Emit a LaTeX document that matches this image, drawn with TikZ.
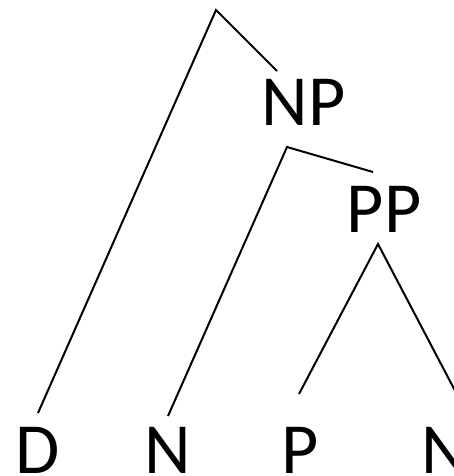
\documentclass[tikz,border=0pt]{standalone}
\usepackage{fontspec}
\setmainfont{Carlito}
\tikzstyle{cat} = [font=\fontsize{72}{72}\selectfont, inner sep=0pt, anchor=base]
\tikzstyle{branch} = [line width=2pt]

\begin{document}
\begin{tikzpicture}[x=1pt,y=-1pt]
                \useasboundingbox (0,0) rectangle (454,476);
                % categories
                \node[cat] (np) at (303.5,125) {NP};
                \node[cat] (pp) at (384,232) {PP};
                \node[cat] (d) at (37.5,473) {D};
                \node[cat] (n1) at (168,473) {N};
                \node[cat] (p) at (300,473) {P};
                \node[cat] (n2) at (445,473) {N};
                % branch ends
                \coordinate (top) at (216,10);
                \coordinate (npup) at (277,71);
                \coordinate (nplow) at (287,147);
                \coordinate (ppup) at (373,172);
                \coordinate (pplow) at (378,244);
                \coordinate (dup) at (38,413);
                \coordinate (n1up) at (168,416);
                \coordinate (pup) at (299,394);
                \coordinate (n2up) at (462,404);
                % branches
                \draw[branch] (dup) -- (top) -- (npup);
                \draw[branch] (n1up) -- (nplow) -- (ppup);
                \draw[branch] (pup) -- (pplow) -- (n2up);
\end{tikzpicture}
\end{document}
